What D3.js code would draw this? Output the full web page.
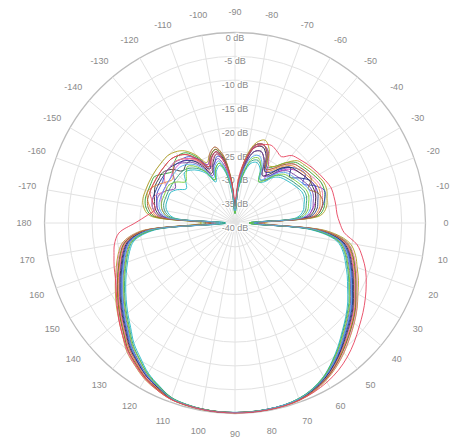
<!DOCTYPE html>
<html>
<head>
<meta charset="utf-8">
<script src="https://cdn.jsdelivr.net/npm/d3@7"></script>
<style>
  html, body { margin: 0; padding: 0; background: #fff; }
  svg { display: block; font-family: "Liberation Sans", Arial, sans-serif; }
</style>
</head>
<body>
<svg id="chart" width="465" height="446"></svg>
<script>
// Azimuth samples, degrees (0 = right, clockwise positive), every 5°
const angles = d3.range(-180, 180, 5);

// Ring levels (dB) and azimuth tick labels
const ringLevels = [-40, -35, -30, -25, -20, -15, -10, -5, 0];
const spokeAngles = d3.range(-170, 190, 10);

// Measured gain patterns (dB), one array per sample, indexed like `angles`
// (first row: -180° … -5°, second row: 0° … 175°)
const pattern01 = [-19,-21.5,-23,-22,-21,-21,-21,-21,-21,-21,-21.5,-22.5,-25,-27,-25.5,-24.5,-27,-31,-35,-30,-26,-23.5,-22.5,-22,-22.5,-23,-21.5,-21,-20.5,-20,-19.5,-19,-18.5,-18.5,-18.5,-18.5,
  -18,-17,-14,-12.3,-10.8,-9.6,-8.4,-7.2,-6,-4.6,-3.3,-2.2,-1.4,-0.8,-0.4,-0.2,-0.15,-0.1,-0.1,-0.15,-0.25,-0.4,-0.6,-1.3,-2.3,-3.6,-5,-6.6,-8.2,-9.8,-11.2,-12.3,-13,-13.7,-14.3,-15.5];
const pattern02 = [-34,-22.5,-21,-20.5,-20.5,-20.5,-20.5,-22,-23,-22,-21.5,-22,-24,-26.5,-25,-24,-26,-31,-36.5,-31,-26,-23,-22.5,-23.5,-26.5,-25.5,-23.5,-22,-21.5,-21,-20.5,-20,-20,-20.5,-21,-22.5,
  -35,-21,-16,-14.4,-13.2,-12,-10.7,-9.1,-7.7,-6.3,-4.8,-3.3,-2,-1.1,-0.5,-0.3,-0.2,-0.2,-0.2,-0.2,-0.3,-0.4,-0.7,-1.5,-2.4,-3.8,-5.1,-7,-8.6,-10.1,-11.5,-12.8,-14,-15.1,-16.5,-20.5];
const pattern03 = [-37,-25,-23.5,-23,-22.5,-22.5,-22.5,-22,-22,-22,-22.5,-23,-24.5,-27,-27,-25.5,-26.5,-31,-36,-31,-26,-23,-22.5,-24,-27,-28,-25.5,-23.5,-22.5,-22,-23.5,-21.5,-20,-20.5,-21.5,-23,
  -37,-22.5,-17.3,-15.5,-14.3,-13,-11.7,-10.1,-8.7,-7.3,-5.6,-4,-2.5,-1.4,-0.7,-0.4,-0.3,-0.2,-0.2,-0.2,-0.3,-0.5,-0.9,-1.9,-3,-4.6,-6.1,-8,-9.6,-11.1,-12.5,-13.8,-15,-16.1,-17.5,-21.5];
const pattern04 = [-35,-26,-24.5,-24,-23.5,-23.5,-23.5,-23.5,-23,-23,-23,-23.5,-24.5,-26.5,-24.5,-23.5,-25.5,-31,-37,-33,-27,-23,-22.5,-23.5,-26,-29,-26,-24,-23,-22.5,-22,-21.5,-22,-22.5,-23.5,-25,
  -35,-21.5,-16.6,-14.9,-13.7,-12.4,-11.1,-9.5,-8.1,-6.7,-5.1,-3.5,-2.1,-1.2,-0.6,-0.35,-0.25,-0.2,-0.2,-0.2,-0.3,-0.45,-0.8,-1.7,-2.6,-4.1,-5.5,-7.4,-9,-10.5,-11.9,-13.2,-14.4,-15.5,-16.9,-21];
const pattern05 = [-38,-27,-25.5,-25,-25,-25,-26,-27.5,-26.5,-25,-25.5,-26.5,-28,-30.5,-28.5,-27.5,-29.5,-34,-38,-33.5,-29.5,-27,-26.5,-27.5,-30,-29.5,-27.5,-26.5,-26,-25.5,-25,-24.5,-24.5,-25,-25.5,-27,
  -37,-24,-18.3,-16.5,-15.3,-14,-12.7,-11.1,-9.6,-8.1,-6.3,-4.5,-2.8,-1.6,-0.8,-0.45,-0.3,-0.25,-0.25,-0.25,-0.35,-0.6,-1,-2.3,-3.6,-5.4,-7,-9,-10.6,-12.1,-13.5,-14.8,-16,-17.1,-18.5,-23];
const pattern06 = [-33,-22,-20.5,-20,-20,-20,-20,-20,-20,-20,-20.5,-21.5,-23.5,-26,-24.5,-23.5,-25.5,-30.5,-36,-31,-25.5,-22.5,-21.5,-23,-26,-25.5,-23.5,-21.5,-21,-20.5,-20,-19.5,-19.5,-20,-20.5,-22,
  -34,-20.5,-15.5,-13.8,-12.7,-11.4,-10.2,-8.7,-7.3,-5.9,-4.4,-3,-1.8,-0.9,-0.4,-0.25,-0.2,-0.15,-0.15,-0.15,-0.2,-0.35,-0.6,-1.3,-2.1,-3.4,-4.7,-6.6,-8.2,-9.6,-11,-12.3,-13.5,-14.6,-16,-20];
const pattern07 = [-36,-24.5,-23,-22.5,-22,-21.5,-21.5,-21.5,-22.5,-24.5,-24,-24,-26,-28.5,-26.5,-25,-27,-32,-37.5,-32.5,-27.5,-24.5,-24,-25.5,-28.5,-27.5,-25,-23.5,-23,-22.5,-22,-22,-22,-22.5,-23,-24.5,
  -36,-22.2,-16.9,-15.1,-13.9,-12.6,-11.3,-9.7,-8.3,-6.9,-5.3,-3.7,-2.3,-1.3,-0.6,-0.35,-0.25,-0.2,-0.2,-0.2,-0.3,-0.5,-0.8,-1.8,-2.8,-4.3,-5.7,-7.6,-9.2,-10.7,-12.1,-13.4,-14.6,-15.7,-17.1,-21];
const pattern08 = [-37,-25,-23.5,-23,-23,-24,-25.5,-24.5,-23,-22.5,-23.5,-24.5,-26.5,-29,-27,-26,-28,-33,-37.5,-32.5,-27.5,-24.5,-24,-25.5,-28.5,-28,-26,-24.5,-24,-23.5,-23,-22.5,-22.5,-23,-23.5,-25,
  -36,-23,-17.6,-15.8,-14.6,-13.3,-12,-10.4,-9,-7.5,-5.8,-4.1,-2.6,-1.4,-0.7,-0.4,-0.3,-0.2,-0.2,-0.2,-0.3,-0.5,-0.9,-2,-3.1,-4.7,-6.3,-8.3,-9.9,-11.4,-12.8,-14.1,-15.3,-16.4,-17.8,-22];
const pattern09 = [-35,-23.5,-22,-21,-20.5,-21.5,-23,-24,-23,-22,-22.5,-23.5,-25,-27.5,-25.5,-24.5,-26.5,-31.5,-36.5,-31.5,-26.5,-23.5,-23,-24.5,-27.5,-26.5,-24.5,-23,-22.5,-22,-21.5,-21,-21,-21.5,-22,-23.5,
  -35,-21.7,-16.5,-14.7,-13.5,-12.2,-10.9,-9.3,-7.9,-6.5,-5,-3.4,-2.1,-1.1,-0.5,-0.3,-0.2,-0.2,-0.2,-0.2,-0.3,-0.4,-0.7,-1.6,-2.5,-4,-5.4,-7.2,-8.8,-10.3,-11.7,-13,-14.2,-15.3,-16.7,-20.8];
const pattern10 = [-38,-26.5,-25,-24.5,-24.5,-24.5,-24.5,-24.5,-24.5,-24.5,-25,-26,-27.5,-30,-28,-27,-29,-33.5,-38,-33,-29,-26.5,-26,-27,-29.5,-29,-27,-26,-25.5,-25,-24.5,-24,-24,-24.5,-25,-26.5,
  -37,-23.5,-18,-16.2,-15,-13.7,-12.4,-10.8,-9.4,-7.9,-6.1,-4.4,-2.7,-1.5,-0.8,-0.4,-0.3,-0.25,-0.2,-0.25,-0.35,-0.55,-1,-2.2,-3.4,-5.1,-6.7,-8.7,-10.3,-11.8,-13.2,-14.5,-15.7,-16.8,-18.2,-22.5];
const pattern11 = [-36,-24,-22.5,-22,-22,-22,-22,-22,-22,-22.5,-23,-24,-25.5,-27.5,-25.5,-24.5,-26.5,-31.5,-36.5,-31.5,-26.5,-23.5,-23,-24.5,-27.5,-27,-25,-23.5,-25,-23.5,-22,-21.5,-21.5,-22,-22.5,-24,
  -36,-22.3,-17.1,-15.3,-14.1,-12.8,-11.5,-9.9,-8.5,-7.1,-5.4,-3.8,-2.3,-1.3,-0.6,-0.35,-0.25,-0.2,-0.2,-0.2,-0.3,-0.45,-0.8,-1.9,-2.9,-4.4,-5.9,-7.8,-9.4,-10.9,-12.3,-13.6,-14.8,-15.9,-17.3,-21.3];
const pattern12 = [-36,-24,-22.5,-22,-22.5,-24,-23,-22,-22,-22,-22.5,-23.5,-25.5,-28,-26,-25,-27,-32,-37,-31.5,-26,-23,-22.5,-24,-27,-26,-24,-22.5,-22,-21.5,-21,-20.5,-20.5,-21,-21.5,-23,
  -35,-21.2,-16,-14.2,-13,-11.7,-10.4,-8.8,-7.4,-6,-4.5,-3.1,-1.9,-1,-0.5,-0.3,-0.2,-0.2,-0.2,-0.2,-0.25,-0.4,-0.65,-1.4,-2.2,-3.5,-4.8,-6.7,-8.3,-9.8,-11.2,-12.5,-13.7,-14.8,-16.2,-20.3];
const pattern13 = [-37,-26,-24.5,-24,-24,-24,-24,-25,-26.5,-25.5,-24.5,-25.5,-27.5,-30,-28,-27,-29,-33.5,-38,-33,-29,-26,-25.5,-27,-30,-29,-27,-25.5,-25,-24.5,-24,-23.5,-23.5,-24,-24.5,-26,
  -37,-23,-17.8,-16,-14.8,-13.5,-12.2,-10.6,-9.2,-7.7,-6,-4.3,-2.7,-1.5,-0.75,-0.4,-0.3,-0.25,-0.2,-0.25,-0.35,-0.55,-0.95,-2.1,-3.3,-5,-6.5,-8.5,-10.1,-11.6,-13,-14.3,-15.5,-16.6,-18,-22];
const pattern14 = [-35,-23,-21.5,-21,-21,-21,-21,-21,-21,-21,-21.5,-22.5,-24.5,-27,-25,-24,-26,-31,-36.5,-31,-26,-23,-22.5,-24,-27,-26,-24,-22.5,-22,-21.5,-21.5,-23,-21.5,-21,-21.5,-23,
  -35,-21.5,-16.3,-14.5,-13.3,-12,-10.7,-9.1,-7.7,-6.3,-4.8,-3.3,-2,-1.1,-0.5,-0.3,-0.2,-0.2,-0.2,-0.2,-0.3,-0.4,-0.7,-1.5,-2.4,-3.8,-5.1,-7,-8.6,-10.1,-11.5,-12.8,-14,-15.1,-16.5,-20.5];
const pattern15 = [-37,-25.5,-24,-23.5,-23.5,-23.5,-23.5,-23.5,-23.5,-23.5,-24,-25,-27,-29.5,-27.5,-26.5,-28.5,-33,-37.5,-32.5,-28,-25.5,-25,-26.5,-29.5,-28.5,-26.5,-25,-24.5,-24,-23.5,-23,-23,-23.5,-24,-25.5,
  -36,-22.6,-17.4,-15.6,-14.4,-13.1,-11.8,-10.2,-8.8,-7.4,-5.7,-4,-2.5,-1.4,-0.7,-0.4,-0.3,-0.2,-0.2,-0.2,-0.3,-0.5,-0.85,-1.95,-3,-4.6,-6.1,-8.1,-9.7,-11.2,-12.6,-13.9,-15.1,-16.2,-17.6,-21.6];

const patterns = [pattern02, pattern03, pattern04, pattern05, pattern06, pattern07, pattern08,
                  pattern09, pattern10, pattern11, pattern12, pattern13, pattern14, pattern15, pattern01];
const colors = ["#2ca02c", "#3344cc", "#cc33cc", "#22b8c8", "#b0a020", "#333333", "#7744aa",
                "#e88833", "#2a9a7a", "#223388", "#ee77aa", "#77cc33", "#996633", "#55aaee", "#e8445e"];

patterns.forEach((p, i) => {
  if (p.length !== angles.length) throw new Error("pattern " + i + " has " + p.length + " samples");
});

const svg = d3.select("#chart");
const cx = 235, cy = 223, R = 190.5;

const r = d3.scaleLinear().domain([-40, 0]).range([0, R]).clamp(true);
// azimuth (0 = right, clockwise) -> d3 radial angle (0 = up, clockwise)
const toRad = deg => (deg + 90) * Math.PI / 180;

const g = svg.append("g").attr("transform", `translate(${cx},${cy})`);

// grid: rings
g.selectAll("circle.ring")
  .data(ringLevels.filter(d => d > -40))
  .join("circle")
  .attr("class", "ring")
  .attr("r", d => r(d))
  .attr("fill", "none")
  .attr("stroke", d => d === 0 ? "#bdbdbd" : "#e2e2e2")
  .attr("stroke-width", d => d === 0 ? 1.3 : 1);

// grid: spokes
g.selectAll("line.spoke")
  .data(spokeAngles)
  .join("line")
  .attr("class", "spoke")
  .attr("x1", 0).attr("y1", 0)
  .attr("x2", d => R * Math.cos(d * Math.PI / 180))
  .attr("y2", d => R * Math.sin(d * Math.PI / 180))
  .attr("stroke", "#e2e2e2")
  .attr("stroke-width", 1);

// azimuth labels
g.selectAll("text.az")
  .data(spokeAngles)
  .join("text")
  .attr("class", "az")
  .attr("x", d => 211 * Math.cos(d * Math.PI / 180))
  .attr("y", d => 211 * Math.sin(d * Math.PI / 180))
  .attr("text-anchor", "middle")
  .attr("dominant-baseline", "central")
  .attr("font-size", 9)
  .attr("fill", "#8a8a8a")
  .text(d => d);

// level labels
g.selectAll("text.lvl")
  .data(ringLevels)
  .join("text")
  .attr("class", "lvl")
  .attr("x", 0)
  .attr("y", d => -r(d) + 5)
  .attr("text-anchor", "middle")
  .attr("dominant-baseline", "central")
  .attr("font-size", 9)
  .attr("fill", "#8a8a8a")
  .attr("stroke", "#fff")
  .attr("stroke-width", 2.5)
  .attr("paint-order", "stroke")
  .text(d => d + " dB");

// patterns
const line = d3.lineRadial()
  .angle((d, i) => toRad(angles[i]))
  .radius(d => r(d))
  .curve(d3.curveCatmullRomClosed.alpha(0.5));

g.selectAll("path.pattern")
  .data(patterns)
  .join("path")
  .attr("class", "pattern")
  .attr("d", d => line(d))
  .attr("fill", "none")
  .attr("stroke", (d, i) => colors[i])
  .attr("stroke-width", 1)
  .attr("stroke-opacity", 0.9);
</script>
</body>
</html>
